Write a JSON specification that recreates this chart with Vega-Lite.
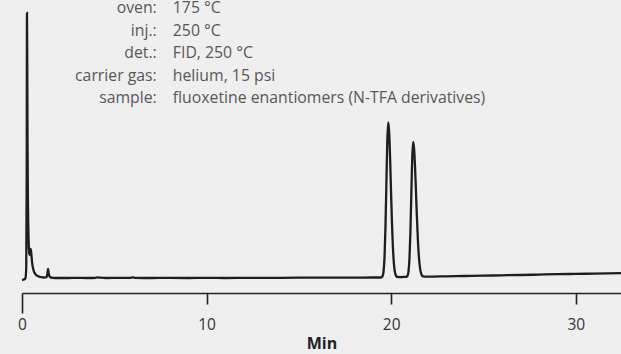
{
  "$schema": "https://vega.github.io/schema/vega-lite/v6.json",
  "width": 599,
  "height": 293,
  "autosize": {"type": "none"},
  "padding": {"left": 22, "top": 0, "right": 0, "bottom": 61},
  "background": "#efefef",
  "config": {"view": {"stroke": null}},
  "datasets": {
    "trace": [
      {"t": 0.0, "s": 13}, {"t": 0.1, "s": 13.5}, {"t": 0.18, "s": 14.5}, {"t": 0.23, "s": 25},
      {"t": 0.255, "s": 120}, {"t": 0.27, "s": 280}, {"t": 0.285, "s": 230}, {"t": 0.3, "s": 150},
      {"t": 0.32, "s": 95}, {"t": 0.35, "s": 60}, {"t": 0.39, "s": 40}, {"t": 0.43, "s": 38},
      {"t": 0.47, "s": 44}, {"t": 0.5, "s": 40}, {"t": 0.55, "s": 30}, {"t": 0.62, "s": 23},
      {"t": 0.72, "s": 19}, {"t": 0.85, "s": 17}, {"t": 1.0, "s": 16}, {"t": 1.2, "s": 15.5},
      {"t": 1.33, "s": 15.8}, {"t": 1.38, "s": 20}, {"t": 1.41, "s": 24}, {"t": 1.45, "s": 19},
      {"t": 1.52, "s": 16}, {"t": 1.65, "s": 15.2}, {"t": 2.0, "s": 15}, {"t": 2.5, "s": 15},
      {"t": 3.0, "s": 15.2}, {"t": 3.5, "s": 15}, {"t": 4.0, "s": 15.2}, {"t": 4.1, "s": 15.7},
      {"t": 4.25, "s": 15.3}, {"t": 4.6, "s": 15}, {"t": 5.2, "s": 15.2}, {"t": 5.85, "s": 15.1},
      {"t": 6.0, "s": 15.6}, {"t": 6.15, "s": 15.2}, {"t": 7, "s": 15}, {"t": 8, "s": 15.1},
      {"t": 9, "s": 15}, {"t": 10, "s": 15.1}, {"t": 11, "s": 15}, {"t": 12, "s": 15.1},
      {"t": 13, "s": 15.2}, {"t": 14, "s": 15.2}, {"t": 15, "s": 15.3}, {"t": 16, "s": 15.3},
      {"t": 17, "s": 15.4}, {"t": 18, "s": 15.4}, {"t": 19, "s": 15.5}, {"t": 19.45, "s": 15.5},
      {"t": 19.49, "s": 15.8}, {"t": 19.54, "s": 17.2}, {"t": 19.59, "s": 22.3}, {"t": 19.64, "s": 36.4},
      {"t": 19.69, "s": 65.9}, {"t": 19.74, "s": 109.6}, {"t": 19.79, "s": 152.2}, {"t": 19.84, "s": 170.5},
      {"t": 19.89, "s": 160.9}, {"t": 19.94, "s": 135.6}, {"t": 19.99, "s": 102.8}, {"t": 20.04, "s": 71.3},
      {"t": 20.09, "s": 47.0}, {"t": 20.14, "s": 31.1}, {"t": 20.19, "s": 22.3}, {"t": 20.24, "s": 18.1},
      {"t": 20.29, "s": 16.5}, {"t": 20.36, "s": 16.0}, {"t": 20.49, "s": 15.9}, {"t": 20.64, "s": 16.0},
      {"t": 20.79, "s": 16.2}, {"t": 20.84, "s": 16.4}, {"t": 20.89, "s": 17.5}, {"t": 20.94, "s": 21.9},
      {"t": 20.99, "s": 34.2}, {"t": 21.04, "s": 59.9}, {"t": 21.09, "s": 97.9}, {"t": 21.14, "s": 135.1},
      {"t": 21.19, "s": 151}, {"t": 21.24, "s": 144.5}, {"t": 21.29, "s": 127.1}, {"t": 21.34, "s": 103.0},
      {"t": 21.39, "s": 77.8}, {"t": 21.44, "s": 55.8}, {"t": 21.49, "s": 39.2}, {"t": 21.54, "s": 28.3},
      {"t": 21.59, "s": 21.9}, {"t": 21.64, "s": 18.6}, {"t": 21.69, "s": 17.0}, {"t": 21.79, "s": 16.4},
      {"t": 22.0, "s": 16.4}, {"t": 23, "s": 16.7}, {"t": 24, "s": 17}, {"t": 25, "s": 17.3},
      {"t": 26, "s": 17.7}, {"t": 27, "s": 18}, {"t": 28, "s": 18.4}, {"t": 29, "s": 18.8},
      {"t": 30, "s": 19.1}, {"t": 31, "s": 19.4}, {"t": 32.45, "s": 19.8}
    ],
    "conditions": [
      {"key": "oven:", "val": "175 °C", "row": 1},
      {"key": "inj.:", "val": "250 °C", "row": 2},
      {"key": "det.:", "val": "FID, 250 °C", "row": 3},
      {"key": "carrier gas:", "val": "helium, 15 psi", "row": 4},
      {"key": "sample:", "val": "fluoxetine enantiomers (N-TFA derivatives)", "row": 5}
    ]
  },
  "layer": [
    {
      "data": {"name": "trace"},
      "mark": {"type": "line", "color": "#1e1e1e", "strokeWidth": 2.3, "interpolate": "monotone", "clip": true},
      "encoding": {
        "x": {
          "field": "t", "type": "quantitative",
          "scale": {"domain": [0, 32.45], "nice": false, "zero": false},
          "axis": {
            "values": [0, 10, 20, 30],
            "title": "Min",
            "grid": false,
            "domainColor": "#222222", "domainWidth": 1.6,
            "tickColor": "#222222", "tickWidth": 1.6,
            "tickSize": {"condition": {"test": "datum.value === 0", "value": 20}, "value": 11},
            "labelPadding": {"condition": {"test": "datum.value === 0", "value": 4}, "value": 13},
            "labelFont": "Open Sans", "labelFontSize": 15.5, "labelColor": "#333333",
            "labelFlush": false,
            "titleFont": "Open Sans", "titleFontSize": 16, "titleFontWeight": "bold", "titleColor": "#222222",
            "titlePadding": 3
          }
        },
        "y": {
          "field": "s", "type": "quantitative",
          "scale": {"domain": [0, 293], "nice": false, "zero": false},
          "axis": null
        }
      }
    },
    {
      "data": {"name": "conditions"},
      "mark": {"type": "text", "align": "right", "baseline": "alphabetic", "font": "Open Sans", "fontSize": 15.8, "color": "#585858"},
      "encoding": {
        "x": {"datum": 7.3, "type": "quantitative"},
        "y": {"field": "row", "type": "quantitative", "scale": {"domain": [0.4222, 13.444], "reverse": true, "nice": false, "zero": false}, "axis": null},
        "text": {"field": "key"}
      }
    },
    {
      "data": {"name": "conditions"},
      "mark": {"type": "text", "align": "left", "baseline": "alphabetic", "font": "Open Sans", "fontSize": 15.8, "color": "#585858"},
      "encoding": {
        "x": {"datum": 8.17, "type": "quantitative"},
        "y": {"field": "row", "type": "quantitative", "scale": {"domain": [0.4222, 13.444], "reverse": true, "nice": false, "zero": false}, "axis": null},
        "text": {"field": "val"}
      }
    }
  ],
  "resolve": {"scale": {"y": "independent"}}
}
